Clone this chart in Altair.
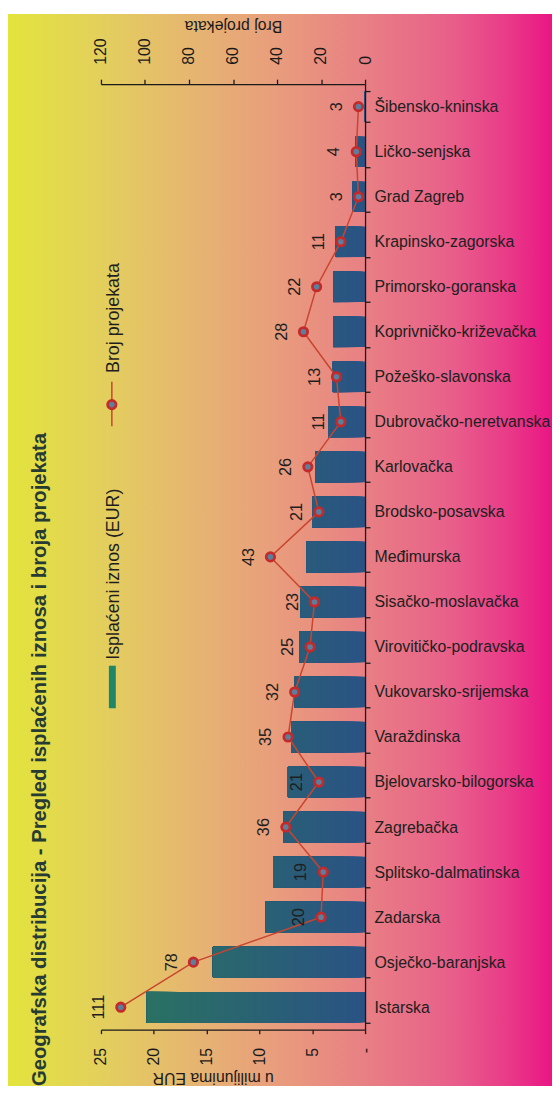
import altair as alt
import pandas as pd

# ---- data ----
regions = ["Šibensko-kninska", "Ličko-senjska", "Grad Zagreb", "Krapinsko-zagorska",
           "Primorsko-goranska", "Koprivničko-križevačka", "Požeško-slavonska",
           "Dubrovačko-neretvanska", "Karlovačka", "Brodsko-posavska", "Međimurska",
           "Sisačko-moslavačka", "Virovitičko-podravska", "Vukovarsko-srijemska",
           "Varaždinska", "Bjelovarsko-bilogorska", "Zagrebačka", "Splitsko-dalmatinska",
           "Zadarska", "Osječko-baranjska", "Istarska"]
amounts = [0.1, 0.9, 1.2, 2.8, 3.0, 3.0, 3.05, 3.5, 4.7, 5.0, 5.55, 6.1, 6.25, 6.65,
           7.0, 7.3, 7.7, 8.7, 9.4, 14.4, 20.65]          # u milijunima EUR
projects = [3, 4, 3, 11, 22, 28, 13, 11, 26, 21, 43, 23, 25, 32, 35, 21, 36, 19, 20, 78, 111]
amount_ticks = [0, 5, 10, 15, 20, 25]
project_ticks = [0, 20, 40, 60, 80, 100, 120]

title_text = "Geografska distribucija - Pregled isplaćenih iznosa i broja projekata"
legend_bar = "Isplaćeni iznos (EUR)"
legend_line = "Broj projekata"

df = pd.DataFrame({"region": regions, "amount": amounts, "projects": projects,
                   "idx": list(range(len(regions)))})
one = pd.DataFrame({"k": [0]})

W, H = 267, 956
PAD_L, PAD_T, PAD_R, PAD_B = 94, 71, 189, 57
FONT = "Liberation Sans"
INK = "#1a1a1a"
LINE_C = "#c9452f"
PT_FILL = "#5d7e9c"
PT_STROKE = "#c42a2a"

y_enc = alt.Y("region:N", sort=regions, title=None,
              scale=alt.Scale(paddingInner=0.32, paddingOuter=0.16),
              axis=alt.Axis(orient="right", tickBand="extent", labelFontSize=16,
                            labelColor="#202020", labelPadding=4, tickSize=5,
                            labelLimit=400, zindex=2))

# background gradient
bg = alt.Chart(one).mark_rect(
    fill=alt.LinearGradient(
        gradient="linear", x1=0, x2=1, y1=0, y2=0,
        stops=[alt.GradientStop(offset=0, color="#e3e43c"),
               alt.GradientStop(offset=0.17, color="#e3d05c"),
               alt.GradientStop(offset=0.35, color="#e6b472"),
               alt.GradientStop(offset=0.5, color="#e99c7d"),
               alt.GradientStop(offset=0.66, color="#e87f84"),
               alt.GradientStop(offset=0.82, color="#e85e8a"),
               alt.GradientStop(offset=0.92, color="#e93a88"),
               alt.GradientStop(offset=1, color="#ea1584")])
).encode(x=alt.value(-PAD_L - 1), x2=alt.value(W + PAD_R),
         y=alt.value(-PAD_T), y2=alt.value(H + PAD_B))

# bars, sliced so the colour shifts from blue (0) to teal (large values)
bars = alt.Chart(df).transform_calculate(
    seg="sequence(0, datum.amount, 0.2)"
).transform_flatten(["seg"]).mark_bar().encode(
    y=y_enc,
    x=alt.X("seg:Q",
            scale=alt.Scale(domain=[0, 25], reverse=True, nice=False),
            axis=alt.Axis(orient="bottom", values=amount_ticks,
                          labelExpr="datum.value == 0 ? '-' : datum.label",
                          labelAngle=270, labelFontSize=16, labelPadding=14, tickSize=4,
                          title="u milijunima EUR", titleAngle=180, titleBaseline="bottom",
                          titleFontSize=16, titleFontWeight="normal", titleX=113,
                          titlePadding=4, zindex=2)),
    x2="amount:Q",
    color=alt.Color("seg:Q", scale=alt.Scale(domain=[0, 21], range=["#2a5384", "#2a7262"],
                                             interpolate="rgb"),
                    legend=None),
)

cnt_x = alt.X("projects:Q",
              scale=alt.Scale(domain=[0, 120], reverse=True, nice=False),
              axis=alt.Axis(orient="top", values=project_ticks, labelAngle=270,
                            labelFontSize=16, labelPadding=15, tickSize=5,
                            title="Broj projekata", titleAngle=180, titleBaseline="top",
                            titleFontSize=16, titleFontWeight="normal", titlePadding=5,
                            zindex=2))

line = alt.Chart(df).mark_line(color=LINE_C, strokeWidth=1.5).encode(
    y=y_enc, x=cnt_x, order="idx:Q")
pts = alt.Chart(df).mark_point(filled=True, fill=PT_FILL, stroke=PT_STROKE, strokeWidth=2.8,
                               size=72, opacity=1).encode(y=y_enc, x=cnt_x)
lbl = alt.Chart(df).mark_text(angle=270, align="center", baseline="alphabetic", dy=-17,
                              fontSize=16.5, font=FONT, color="#1e1e1e").encode(
    y=y_enc, x=cnt_x, text="projects:Q")
count_layer = alt.layer(line, pts, lbl)

# legend (rotated like the rest of the picture)
leg_rect = alt.Chart(one).mark_rect(fill="#1f8667").encode(
    x=alt.value(8), x2=alt.value(15), y=alt.value(588), y2=alt.value(631))
leg_t1 = alt.Chart(one).mark_text(angle=270, align="left", baseline="middle", fontSize=18,
                                  font=FONT, color="#1e1e1e").encode(
    x=alt.value(13), y=alt.value(582), text=alt.value(legend_bar))
leg_rule = alt.Chart(one).mark_rule(color=LINE_C, strokeWidth=1.5).encode(
    x=alt.value(11), y=alt.value(301), y2=alt.value(346))
leg_pt = alt.Chart(one).mark_point(filled=True, fill=PT_FILL, stroke=PT_STROKE,
                                   strokeWidth=2.8, size=72, opacity=1).encode(
    x=alt.value(11), y=alt.value(324))
leg_t2 = alt.Chart(one).mark_text(angle=270, align="left", baseline="middle", fontSize=18,
                                  font=FONT, color="#1e1e1e").encode(
    x=alt.value(13), y=alt.value(292), text=alt.value(legend_line))

chart = alt.layer(bg, bars, count_layer, leg_rect, leg_t1, leg_rule, leg_pt, leg_t2).resolve_scale(
    x="independent"
).properties(
    width=W, height=H,
    padding={"left": PAD_L, "top": PAD_T, "right": PAD_R, "bottom": PAD_B},
    autosize=alt.AutoSizeParams(type="none"),
    background="white",
    title=alt.TitleParams(text=title_text, orient="left", anchor="start", frame="bounds",
                          offset=-44, fontSize=20.5, font=FONT, fontWeight="bold",
                          color="#263b33"),
).configure_axis(
    labelFont=FONT, titleFont=FONT, labelColor=INK, titleColor=INK,
    domainColor=INK, tickColor=INK, domainWidth=1.3, tickWidth=1.3, grid=False, zindex=2
).configure_view(stroke=None)

chart.save("out.html", embed_options={"renderer": "svg", "actions": False})
